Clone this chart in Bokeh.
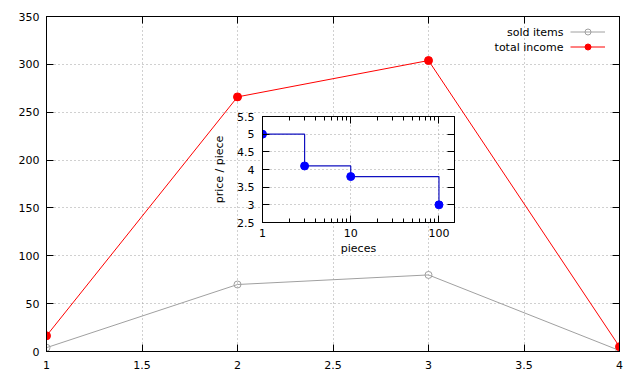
from bokeh.plotting import figure
from bokeh.models import (Range1d, FixedTicker, CustomJSTickFormatter, LinearAxis, LogAxis,
                          Legend, LegendItem, Label)
from bokeh.embed import file_html
from bokeh.resources import INLINE

# ---- data ----
x_vals = [1, 2, 3, 4]
sold_items = [4, 70, 80, 1]
total_income = [16.4, 266, 304, 5]
main_x_ticks = [1, 1.5, 2, 2.5, 3, 3.5, 4]
main_y_ticks = [0, 50, 100, 150, 200, 250, 300, 350]

pieces = [1, 3, 10, 100]
price_per_piece = [5.0, 4.1, 3.8, 3.0]
inset_x_ticks = [1, 10, 100]
inset_x_minor = [2, 3, 4, 5, 6, 7, 8, 9, 20, 30, 40, 50, 60, 70, 80, 90]
inset_y_ticks = [2.5, 3, 3.5, 4, 4.5, 5, 5.5]

FONT = "DejaVu Sans"
FS = "11px"
GRID = "#a0a0a0"
fmt_num = CustomJSTickFormatter(code="return String(tick)")
fmt_none = CustomJSTickFormatter(code="return ''")


def style_axis(ax, show_labels=True, tick_in=7, minor_in=0, label=None):
    ax.axis_label = label
    ax.major_tick_in = tick_in
    ax.major_tick_out = 0
    ax.minor_tick_in = minor_in
    ax.minor_tick_out = 0
    ax.axis_line_color = "black"
    ax.major_tick_line_color = "black"
    ax.minor_tick_line_color = "black"
    ax.major_label_text_font = FONT
    ax.major_label_text_font_size = FS
    ax.major_label_text_color = "black"
    ax.axis_label_text_font = FONT
    ax.axis_label_text_font_size = FS
    ax.axis_label_text_font_style = "normal"
    ax.axis_label_text_color = "black"
    if not show_labels:
        ax.formatter = fmt_none
        ax.major_label_standoff = 0


# ---- main plot ----
p = figure(width=624, height=368, output_backend="svg", toolbar_location=None,
           x_range=Range1d(1, 4), y_range=Range1d(0, 350),
           min_border_left=38, min_border_right=13, min_border_top=8, min_border_bottom=25)
p.styles = {"position": "absolute", "left": "8px", "top": "8px"}
p.outline_line_color = "black"
p.outline_line_alpha = 1
p.background_fill_color = "white"
p.border_fill_color = "white"

p.xaxis.ticker = FixedTicker(ticks=main_x_ticks)
p.yaxis.ticker = FixedTicker(ticks=main_y_ticks)
p.xaxis.formatter = fmt_num
p.yaxis.formatter = fmt_num
style_axis(p.xaxis[0])
style_axis(p.yaxis[0])
p.xaxis.major_label_standoff = 9
p.yaxis.major_label_standoff = 7

top_ax = LinearAxis(ticker=FixedTicker(ticks=main_x_ticks))
style_axis(top_ax, show_labels=False)
p.add_layout(top_ax, "above")
right_ax = LinearAxis(ticker=FixedTicker(ticks=main_y_ticks))
style_axis(right_ax, show_labels=False)
p.add_layout(right_ax, "right")

for g in (p.xgrid[0], p.ygrid[0]):
    g.grid_line_color = GRID
    g.grid_line_dash = "1 3"
    g.grid_line_width = 1

r_sold_l = p.line(x_vals, sold_items, line_color="#a0a0a0", line_width=1)
r_sold_m = p.scatter(x_vals, sold_items, marker="circle", size=7, fill_color=None,
                     line_color="#a0a0a0", line_width=1)
r_inc_l = p.line(x_vals, total_income, line_color="#ff0000", line_width=1)
r_inc_m = p.scatter(x_vals, total_income, marker="circle", size=8, fill_color="#ff0000",
                    line_color="#ff0000")

legend = Legend(items=[LegendItem(label="", renderers=[r_sold_l, r_sold_m]),
                       LegendItem(label="", renderers=[r_inc_l, r_inc_m])],
                location="top_right", margin=8, padding=0, spacing=0,
                glyph_width=35, glyph_height=15, label_height=15, label_width=6,
                label_standoff=0, background_fill_alpha=0, border_line_alpha=0)
p.add_layout(legend)
for txt, yy in (("sold items", 319), ("total income", 304)):
    p.add_layout(Label(x=517, y=yy, x_units="screen", y_units="screen", text=txt,
                       text_align="right", text_baseline="middle",
                       text_font=FONT, text_font_size=FS, text_color="black"))

# ---- inset plot ----
q = figure(width=255, height=157, output_backend="svg", toolbar_location=None,
           x_axis_type="log", x_range=Range1d(1, 150), y_range=Range1d(2.5, 5.5),
           min_border_left=57, min_border_right=6, min_border_top=8, min_border_bottom=43)
q.styles = {"position": "absolute", "left": "205px", "top": "108px"}
q.outline_line_color = "black"
q.outline_line_alpha = 1
q.background_fill_color = "white"
q.border_fill_alpha = 0

q.xaxis.ticker = FixedTicker(ticks=inset_x_ticks, minor_ticks=inset_x_minor)
q.yaxis.ticker = FixedTicker(ticks=inset_y_ticks)
q.xaxis.formatter = fmt_num
q.yaxis.formatter = fmt_num
style_axis(q.xaxis[0], tick_in=7, minor_in=4, label="pieces")
style_axis(q.yaxis[0], label="price / piece")
q.xaxis.major_label_standoff = 6
q.xaxis.axis_label_standoff = 2
q.yaxis.major_label_standoff = 8
q.yaxis.axis_label_standoff = 8

q_top = LogAxis(ticker=FixedTicker(ticks=inset_x_ticks, minor_ticks=inset_x_minor))
style_axis(q_top, show_labels=False, tick_in=7, minor_in=4)
q.add_layout(q_top, "above")
q_right = LinearAxis(ticker=FixedTicker(ticks=inset_y_ticks))
style_axis(q_right, show_labels=False)
q.add_layout(q_right, "right")

for g in (q.xgrid[0], q.ygrid[0]):
    g.grid_line_color = GRID
    g.grid_line_dash = "1 3"
    g.grid_line_width = 1

q.step(pieces, price_per_piece, mode="after", line_color="#1010c0", line_width=1.2)
q.scatter(pieces, price_per_piece, marker="circle", size=8, fill_color="#0000ff",
          line_color="#0000ff")

open("out.html", "w").write(file_html([p, q], INLINE))
